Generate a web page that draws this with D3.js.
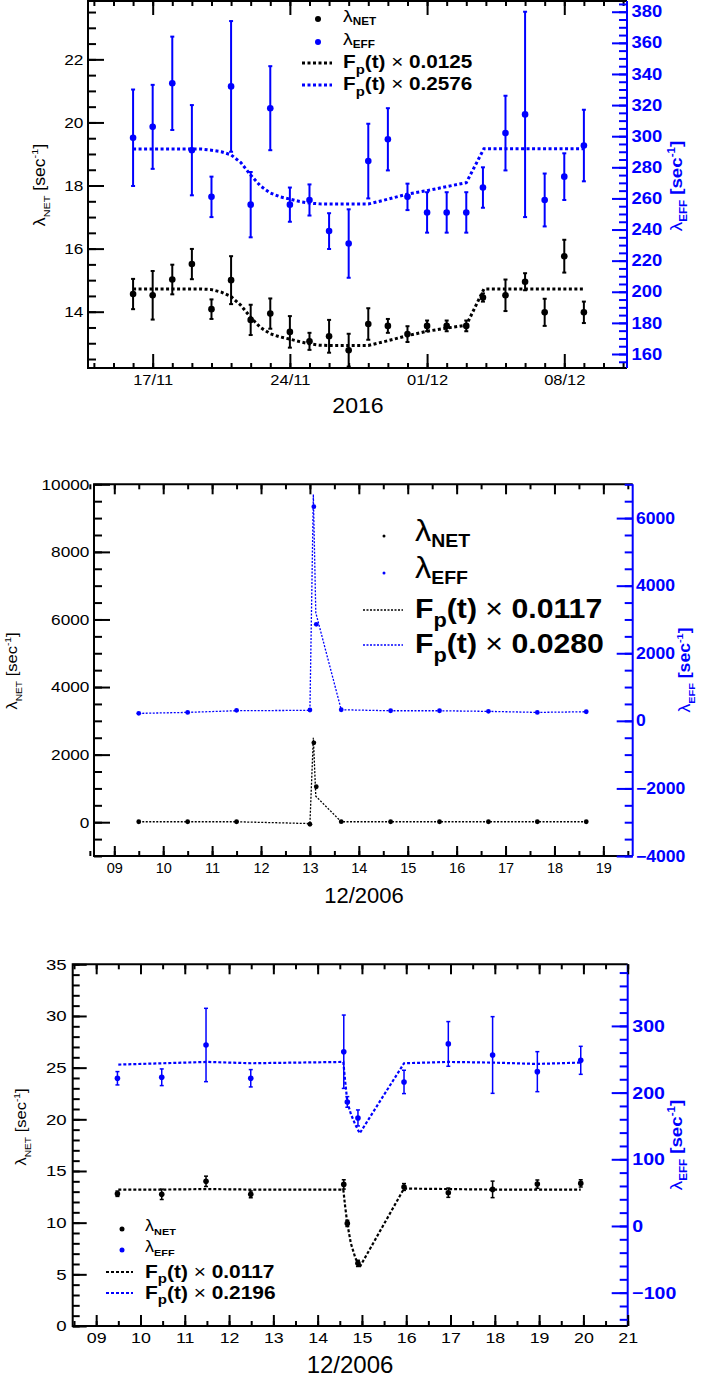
<!DOCTYPE html>
<html>
<head>
<meta charset="utf-8">
<script src="https://cdn.jsdelivr.net/npm/d3@7"></script>
<style>
  body { margin: 0; background: #fff; }
  text { font-family: "Liberation Sans", Arial, Helvetica, sans-serif; }
</style>
</head>
<body>
<script>
// ---------- panel 1 : Nov/Dec 2016, days counted from 1 Nov (01/12 = 31)
const days1 = [16, 17, 18, 19, 20, 21, 22, 23, 24, 25, 26, 27, 28, 29, 30, 31, 32, 33, 33.85, 35, 36, 37, 38, 39]
const net1 = [14.56, 14.52, 15.02, 15.51, 14.08, 15.0, 13.74, 13.94, 13.36, 13.06, 13.22, 12.78, 13.61, 13.55, 13.29, 13.55, 13.55, 13.55, 14.45, 14.52, 14.95, 13.98, 15.76, 13.98]
const net1Err = [0.48, 0.77, 0.47, 0.48, 0.31, 0.76, 0.48, 0.48, 0.5, 0.27, 0.52, 0.52, 0.5, 0.22, 0.25, 0.17, 0.17, 0.17, 0.13, 0.5, 0.27, 0.43, 0.52, 0.34]
const eff1 = [299, 306, 334, 291, 261, 332, 256, 318, 256, 259, 239, 231, 284, 298, 261, 251, 251, 251, 267, 302, 314, 259, 274, 294]
const eff1Err = [31, 27, 30, 29, 13, 42, 21, 27, 11, 10, 11.5, 22, 24, 20, 8.5, 13, 13, 13, 13, 24, 66, 17, 15, 23]
const fitDays1 = [16, 17, 18, 19, 19.5, 20, 20.5, 21, 21.5, 22, 22.5, 23, 23.5, 24, 24.5, 25, 25.5, 26, 27, 28, 29, 30, 31, 32, 33, 33.9, 35, 36, 37, 38, 39]
const fitNet1 = [14.72, 14.72, 14.72, 14.72, 14.72, 14.7, 14.62, 14.48, 14.2, 13.82, 13.5, 13.3, 13.2, 13.13, 13.05, 12.98, 12.94, 12.93, 12.93, 12.93, 13.08, 13.24, 13.38, 13.48, 13.57, 14.72, 14.72, 14.72, 14.72, 14.72, 14.72]
const fitEff1 = [291.7, 291.7, 291.7, 291.7, 291.7, 291, 290, 288, 283, 275, 268, 263.5, 261, 259.6, 258, 257, 256.5, 256.4, 256.4, 256.4, 259.5, 262.8, 265, 267.6, 270.1, 292, 292, 292, 292, 292, 292]
const xTicks1 = [17, 24, 31, 38]
const xLabels1 = ['17/11', '24/11', '01/12', '08/12']

// ---------- panel 2 : December 2006 (day of month)
const days2 = [9.5, 10.5, 11.5, 13.0, 13.08, 13.13, 13.64, 14.65, 15.65, 16.65, 17.65, 18.65]
const net2 = [13, 13, 13, -60, 2350, 1050, 15, 13, 13, 13, 13, 13]
const eff2 = [221, 250, 310, 320, 6337, 2857, 328, 298, 298, 280, 250, 269]
const fitDays2 = [9.5, 10.5, 11.5, 13.0, 13.07, 13.12, 13.64, 14.65, 15.65, 16.65, 17.65, 18.65]
const fitNet2 = [13, 13, 13, -40, 2500, 770, 13, 13, 13, 13, 13, 13]
const fitEff2 = [221, 250, 300, 310, 6700, 3200, 328, 298, 298, 280, 250, 269]

// ---------- panel 3 : December 2006 (day of month)
const days3 = [9.48, 10.48, 11.48, 12.49, 14.59, 14.67, 14.91, 15.95, 16.95, 17.95, 18.96, 19.94]
const net3 = [12.8, 12.74, 14.0, 12.74, 13.7, 9.93, 6.06, 13.45, 12.9, 13.22, 13.73, 13.8]
const net3Err = [0.26, 0.5, 0.5, 0.33, 0.45, 0.3, 0.3, 0.33, 0.45, 0.8, 0.4, 0.35]
const eff3 = [221.5, 223, 271.4, 221.5, 261.3, 186, 162, 216, 273, 256.4, 231.4, 248.4]
const eff3Err = [10, 12.5, 55, 13, 55, 8, 12, 17.5, 33.5, 57.5, 30, 21]
const fitDays3 = [9.5, 10.5, 11.5, 12.5, 14.58, 14.62, 14.67, 14.75, 14.85, 14.95, 15.95, 16.95, 17.95, 18.95, 19.94]
const fitNet3 = [13.2, 13.2, 13.25, 13.2, 13.2, 11.6, 9.9, 8.0, 6.6, 5.7, 13.3, 13.25, 13.2, 13.2, 13.2]
const fitEff3 = [242, 244, 246, 244, 246, 218, 186, 168, 152, 139, 244, 246, 245, 243, 245]

const scales2 = ['0.0117', '0.0280']
const scales1 = ['0.0125', '0.2576']
const scales3 = ['0.0117', '0.2196']

const BLUE = '#0000ff'
const svg = d3.select('body').append('svg').attr('width', 720).attr('height', 1380)

// text made of pieces (sub/superscripts), optionally rotated and stretched sideways
function richText(g, x, y, parts, o) {
  const size = o.size
  const t = g.append('text')
    .attr('transform', `translate(${x},${y})` + (o.rotate ? ' rotate(-90)' : '') + ` scale(${o.sx || 1},1)`)
    .attr('text-anchor', o.anchor || 'start')
    .attr('fill', o.color || 'black')
    .attr('font-size', size)
  let shift = 0
  parts.forEach(p => {
    const want = p.sub ? size * (p.drop || 0.3) : p.sup ? -size * 0.42 : 0
    t.append('tspan')
      .attr('dy', want - shift)
      .attr('font-size', p.sub || p.sup ? size * (p.rel || 0.62) : size)
      .attr('font-weight', p.bold ? 'bold' : 'normal')
      .text(p.t)
    shift = want
  })
  return t
}

function axisTicks(g, fn, scale, values, size, fmt, pad) {
  g.call(fn(scale).tickValues(values).tickSize(size).tickPadding(pad || 4).tickFormat(fmt || ''))
  g.select('.domain').remove()
}

function drawPanel(p) {
  const g = svg.append('g')
  const x = d3.scaleLinear().domain(p.xDom).range([p.left, p.right])
  const yL = d3.scaleLinear().domain(p.yLDom).range([p.bottom, p.top])
  const yR = d3.scaleLinear().domain(p.yRDom).range([p.bottom, p.top])

  // fit curves
  const fits = [[p.fitNet, yL, 'black'], [p.fitEff, yR, BLUE]]
  fits.forEach(([vals, ys, col]) => {
    g.append('path')
      .datum(d3.zip(p.fitDays, vals))
      .attr('d', d3.line().x(d => x(d[0])).y(d => ys(d[1])))
      .attr('fill', 'none').attr('stroke', col)
      .attr('stroke-width', p.fitW).attr('stroke-dasharray', p.dash)
  })

  // measured points
  const series = [[p.eff, p.effErr, yR, BLUE], [p.net, p.netErr, yL, 'black']]
  series.forEach(([vals, errs, ys, col]) => {
    const pts = p.days.map((d, i) => ({ d: d, v: vals[i], e: errs ? errs[i] : 0 }))
    const sg = g.append('g').attr('stroke', col).attr('fill', col)
    if (errs) {
      const eb = sg.selectAll('g.err').data(pts).enter().append('g').attr('stroke-width', p.errW)
      eb.append('line')
        .attr('x1', d => x(d.d)).attr('x2', d => x(d.d))
        .attr('y1', d => ys(d.v - d.e)).attr('y2', d => ys(d.v + d.e))
      eb.append('line')
        .attr('x1', d => x(d.d) - 2).attr('x2', d => x(d.d) + 2)
        .attr('y1', d => ys(d.v + d.e)).attr('y2', d => ys(d.v + d.e))
      eb.append('line')
        .attr('x1', d => x(d.d) - 2).attr('x2', d => x(d.d) + 2)
        .attr('y1', d => ys(d.v - d.e)).attr('y2', d => ys(d.v - d.e))
    }
    sg.selectAll('circle').data(pts).enter().append('circle')
      .attr('cx', d => x(d.d)).attr('cy', d => ys(d.v)).attr('r', p.dotR).attr('stroke', 'none')
  })

  // frame
  g.append('path')
    .attr('d', `M${p.right},${p.top}H${p.left}V${p.bottom}H${p.right}`)
    .attr('fill', 'none').attr('stroke', 'black').attr('stroke-width', 2)
  g.append('line').attr('x1', p.right).attr('x2', p.right).attr('y1', p.top).attr('y2', p.bottom)
    .attr('stroke', BLUE).attr('stroke-width', 2)

  // axes (ticks pointing inside, ROOT style)
  const ax = [
    [d3.axisBottom, x, p.xMajor, -p.tb[0], p.xFmt, 'bottom', p.xPad],
    [d3.axisBottom, x, p.xMinor, -p.tb[1], null, 'bottom'],
    [d3.axisTop, x, p.xMajor, -p.tt[0], null, 'top'],
    [d3.axisTop, x, p.xMinor, -p.tt[1], null, 'top'],
    [d3.axisLeft, yL, p.yLMajor, -p.tl[0], p.yLFmt, 'left', p.yLPad],
    [d3.axisLeft, yL, p.yLMinor, -p.tl[1], null, 'left'],
    [d3.axisRight, yR, p.yRMajor, -p.tr[0], p.yRFmt, 'right', p.yRPad],
    [d3.axisRight, yR, p.yRMinor, -p.tr[1], null, 'right']
  ]
  ax.forEach(([fn, sc, vals, size, fmt, side, pad]) => {
    const pos = { bottom: [0, p.bottom], top: [0, p.top], left: [p.left, 0], right: [p.right, 0] }[side]
    const ag = g.append('g').attr('transform', `translate(${pos[0]},${pos[1]})`)
    axisTicks(ag, fn, sc, vals, size, fmt, pad)
    const col = side === 'right' ? BLUE : 'black'
    ag.selectAll('line').attr('stroke', col).attr('stroke-width', 2)
    ag.selectAll('text').attr('fill', col).attr('font-family', '"Liberation Sans", Arial, sans-serif')
    const f = { bottom: p.xFont, left: p.yLFont, right: p.yRFont }[side]
    if (f) {
      ag.selectAll('text').attr('font-size', f[0]).attr('font-weight', f[2] || 'normal')
        .attr('transform', `scale(${f[1]},1)`)
    }
  })

  // axis titles
  richText(g, p.xTitle[1], p.xTitle[2], [{ t: p.xTitle[0] }], { size: p.xTitle[3], anchor: 'middle', sx: p.xTitle[4] || 1 })
  const lt = p.lTitle
  richText(g, lt[0], lt[1], [{ t: 'λ' }, { t: 'NET', sub: true }, { t: ' [sec' }, { t: '-1', sup: true }, { t: ']' }],
    { size: lt[2], anchor: 'middle', rotate: true, sx: lt[3] })
  const rt = p.rTitle
  richText(g, rt[0], rt[1], [{ t: 'λ' }, { t: 'EFF', sub: true, bold: true }, { t: ' [sec', bold: true }, { t: '-1', sup: true, bold: true }, { t: ']', bold: true }],
    { size: rt[2], anchor: 'middle', rotate: true, sx: rt[3], color: BLUE })

  // legend
  const L = p.legend
  const cols = ['black', BLUE]
  ;['NET', 'EFF'].forEach((name, i) => {
    g.append('circle').attr('cx', L.markX).attr('cy', L.rows[i]).attr('r', L.dotR).attr('fill', cols[i])
    richText(g, L.textX, L.rows[i] + L.lamSize * 0.15, [{ t: 'λ' }, { t: name, sub: true, bold: true, rel: 0.6, drop: 0.22 }],
      { size: L.lamSize, sx: L.sx })
  })
  p.scales.forEach((s, i) => {
    const yy = L.rows[2 + i]
    g.append('line').attr('x1', L.lineX[0]).attr('x2', L.lineX[1]).attr('y1', yy).attr('y2', yy)
      .attr('stroke', cols[i]).attr('stroke-width', p.fitW).attr('stroke-dasharray', p.dash)
    richText(g, L.textX, yy + L.fpSize * 0.3,
      [{ t: 'F', bold: true }, { t: 'p', sub: true, bold: true, rel: 0.72 }, { t: '(t)', bold: true }, { t: ' × ' }, { t: s, bold: true }],
      { size: L.fpSize, sx: L.sx })
  })
}

const fmt02 = d3.format('02d')

drawPanel({
  left: 88, right: 627, top: 1, bottom: 368,
  xDom: [13.7, 41.2], yLDom: [12.215, 23.85], yRDom: [151, 386.9],
  days: days1, net: net1, netErr: net1Err, eff: eff1, effErr: eff1Err,
  fitDays: fitDays1, fitNet: fitNet1, fitEff: fitEff1,
  dotR: 3.3, errW: 2, fitW: 3, dash: '3,2.5',
  xMajor: xTicks1, xMinor: d3.range(14, 42), xFmt: (d, i) => xLabels1[i], xPad: 6,
  yLMajor: d3.range(14, 23, 2), yLMinor: d3.range(12.5, 24, 0.5), yLFmt: d3.format('d'), yLPad: 4,
  yRMajor: d3.range(160, 381, 20), yRMinor: d3.range(155, 386, 5), yRFmt: d3.format('d'), yRPad: 4,
  tb: [14, 5], tt: [14, 5], tl: [16, 8], tr: [15, 8],
  xFont: [15, 1.1], yLFont: [15, 1.15], yRFont: [16, 1.15, 'bold'],
  xTitle: ['2016', 358, 413, 22, 1.05],
  lTitle: [45, 185, 16, 1.1], rTitle: [682, 186, 17, 1.1],
  scales: scales1,
  legend: { markX: 318, lineX: [302, 332], textX: 343, rows: [19, 42, 63, 85], dotR: 3, lamSize: 17, fpSize: 18, sx: 1.15 }
})

drawPanel({
  left: 94, right: 632.7, top: 484.3, bottom: 856,
  xDom: [8.585, 19.6], yLDom: [-1000, 10000], yRDom: [-4000, 7000],
  days: days2, net: net2, netErr: null, eff: eff2, effErr: null,
  fitDays: fitDays2, fitNet: fitNet2, fitEff: fitEff2,
  dotR: 2.4, errW: 1.5, fitW: 1.3, dash: '2,1.5',
  xMajor: d3.range(9, 20), xMinor: d3.range(8.5, 19.6, 0.5), xFmt: fmt02, xPad: 7,
  yLMajor: d3.range(0, 10001, 2000), yLMinor: d3.range(-1000, 10001, 500), yLFmt: d3.format('d'), yLPad: 4,
  yRMajor: d3.range(-4000, 6001, 2000), yRMinor: d3.range(-4000, 7001, 500), yRFmt: d3.format('d'), yRPad: 3,
  tb: [10, 5], tt: [10, 5], tl: [16, 8], tr: [16, 8],
  xFont: [14.5, 1.0], yLFont: [15, 1.15], yRFont: [16, 1.1, 'bold'],
  xTitle: ['12/2006', 364, 903, 22, 1.0],
  lTitle: [17, 671, 15, 1.1], rTitle: [690, 670, 16, 1.1],
  scales: scales2,
  legend: { markX: 384, lineX: [363, 403], textX: 415, rows: [536, 573, 610, 645], dotR: 1.5, lamSize: 30, fpSize: 28, sx: 1.08 }
})

drawPanel({
  left: 72.7, right: 627.7, top: 964.3, bottom: 1326,
  xDom: [8.47, 21], yLDom: [0, 35], yRDom: [-150, 392.4],
  days: days3, net: net3, netErr: net3Err, eff: eff3, effErr: eff3Err,
  fitDays: fitDays3, fitNet: fitNet3, fitEff: fitEff3,
  dotR: 2.8, errW: 1.5, fitW: 2.2, dash: '3,2',
  xMajor: d3.range(9, 22), xMinor: d3.range(8.5, 21.1, 0.5), xFmt: fmt02, xPad: 6,
  yLMajor: d3.range(0, 36, 5), yLMinor: d3.range(0, 36, 1), yLFmt: d3.format('d'), yLPad: 5,
  yRMajor: d3.range(-100, 301, 100), yRMinor: d3.range(-140, 391, 20), yRFmt: d3.format('d'), yRPad: 4,
  tb: [11, 5], tt: [10, 5], tl: [14, 7], tr: [16, 8],
  xFont: [15.5, 1.15], yLFont: [15.5, 1.2], yRFont: [17, 1.15, 'bold'],
  xTitle: ['12/2006', 350, 1373, 24, 1.0],
  lTitle: [26, 1127, 15, 1.1], rTitle: [682, 1145, 17, 1.1],
  scales: scales3,
  legend: { markX: 122, lineX: [106, 133], textX: 145, rows: [1229, 1250, 1272, 1293], dotR: 2.5, lamSize: 16.5, fpSize: 19, sx: 1.1 }
})
</script>
</body>
</html>
